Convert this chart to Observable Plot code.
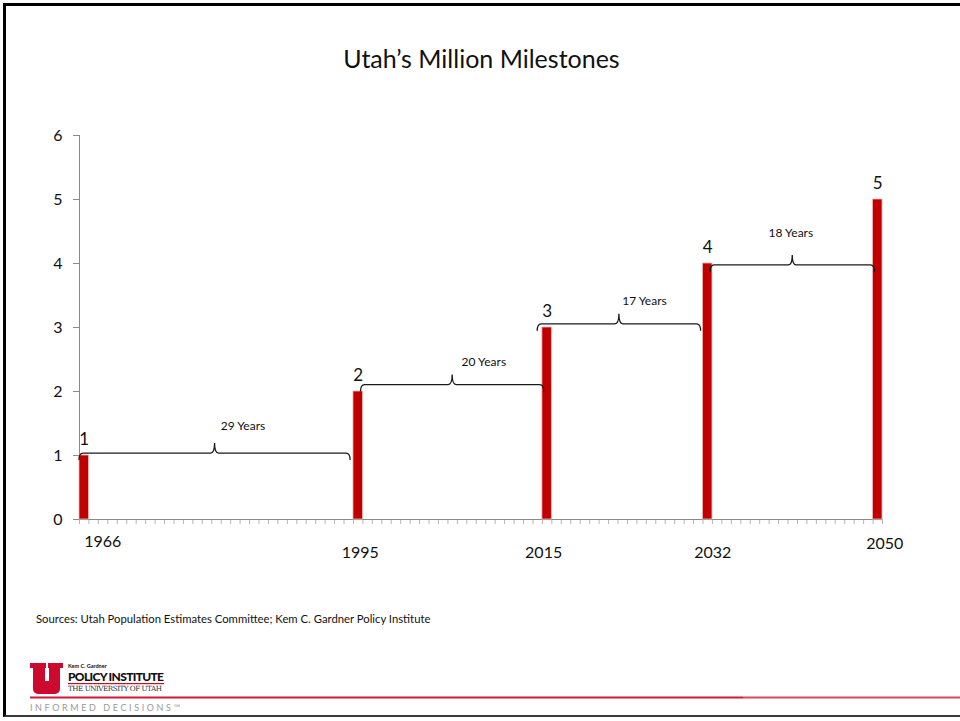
<!DOCTYPE html>
<html>
<head>
<meta charset="utf-8">
<script src="https://cdn.jsdelivr.net/npm/d3@7"></script>
<script src="https://cdn.jsdelivr.net/npm/@observablehq/plot@0.6"></script>
<style>
  html, body { margin: 0; padding: 0; background: #fff; width: 960px; height: 721px; overflow: hidden; font-family: Lato, "Open Sans", sans-serif; }
  #frame { position: absolute; left: 3px; top: 3px; width: 970px; height: 714px; border-left: 3px solid #000; border-top: 3px solid #000; border-bottom: 2px solid #3a3a3a; box-sizing: border-box; }
  #title { position: absolute; top: 43px; left: 0; width: 963px; text-align: center; font-size: 25px; color: #111; }
  #chart { position: absolute; top: 100px; left: 0; }
  #source { position: absolute; left: 36px; top: 612px; font-size: 11.3px; color: #111; }
  #logo { position: absolute; left: 0; top: 655px; }
</style>
</head>
<body>
<div id="frame"></div>
<div id="title">Utah’s Million Milestones</div>
<div id="chart"></div>
<div id="source">Sources: Utah Population Estimates Committee; Kem C. Gardner Policy Institute</div>
<svg id="logo" width="960" height="64" xmlns="http://www.w3.org/2000/svg">
  <g fill="#cc0a2f">
    <rect x="30" y="8" width="16" height="5"/>
    <rect x="48" y="8" width="15" height="5"/>
    <rect x="33" y="12" width="12" height="20"/>
    <rect x="49" y="12" width="11" height="20"/>
    <rect x="33" y="26" width="27" height="13" rx="5"/>
  </g>
  <text x="68" y="13" font-size="5.5" font-weight="bold" fill="#111" font-family="Lato, sans-serif">Kem C. Gardner</text>
  <text x="68" y="26" font-size="12" font-weight="900" fill="#111" font-family="Lato, sans-serif" textLength="96">POLICY INSTITUTE</text>
  <rect x="68" y="28" width="96" height="1.2" fill="#cc0a2f"/>
  <text x="68" y="36" font-size="7.2" fill="#333" font-family="'DejaVu Serif', 'Liberation Serif', serif" textLength="94">THE UNIVERSITY OF UTAH</text>
  <rect x="30" y="41.5" width="713" height="2" fill="#d3173a"/>
  <rect x="743" y="41.5" width="217" height="2" fill="#e0455f"/>
  <text x="30" y="56" font-size="9" fill="#9a9a9a" font-family="Lato, sans-serif" letter-spacing="2.6">INFORMED DECISIONS™</text>
</svg>
<script>
// ---- data ----
const years = [1966, 1995, 2015, 2032, 2050];
const millions = [1, 2, 3, 4, 5];
const yTicks = [0, 1, 2, 3, 4, 5, 6];
const yearLabels = ["1966", "1995", "2015", "2032", "2050"];
const braceFrom = [1965.5, 1995.3, 2014.0, 2032.3];
const braceTo = [1994.2, 2014.7, 2031.3, 2049.7];
const braceLevel = [1.03, 2.10, 3.05, 3.97];
const braceText = ["29 Years", "20 Years", "17 Years", "18 Years"];
const braceTextX = [1982.8, 2008.3, 2025.3, 2040.8];
const braceTextY = [1.46, 2.46, 3.41, 4.47];
const yearDomain = [1965.5, 2050.5];

const bars = years.map((y, i) => ({year: y, value: millions[i], label: yearLabels[i]}));
const braces = braceFrom.map((f, i) => ({from: f, to: braceTo[i], level: braceLevel[i], text: braceText[i], tx: braceTextX[i], ty: braceTextY[i]}));
const boundaries = d3.range(yearDomain[0], yearDomain[1] + 0.01, 1);

const axisGray = "#8a8a8a";
const fontFamily = "Lato, 'Open Sans', sans-serif";

// brace drawing as a custom mark using Plot's scales
function braceMark(index, scales) {
  const g = d3.create("svg:g").attr("fill", "none").attr("stroke", "#1a1a1a").attr("stroke-width", 1.3);
  const r = 4, c = 7, h = 10;
  for (const b of braces) {
    const x0 = scales.x(b.from), x1 = scales.x(b.to), py = scales.y(b.level);
    const pm = scales.x((b.from + b.to) / 2);
    const p = d3.path();
    p.moveTo(x0, py + c);
    p.quadraticCurveTo(x0, py, x0 + r, py);
    p.lineTo(pm - r, py);
    p.quadraticCurveTo(pm, py, pm, py - h);
    p.quadraticCurveTo(pm, py, pm + r, py);
    p.lineTo(x1 - r, py);
    p.quadraticCurveTo(x1, py, x1, py + c);
    g.append("path").attr("d", p.toString());
  }
  return g.node();
}

const yearNudge = [[18.5, 22], [2, 33], [-3.5, 33], [5, 33], [7, 24]];

const chart = Plot.plot({
  width: 960,
  height: 480,
  marginLeft: 79,
  marginRight: 78,
  marginTop: 35,
  marginBottom: 61,
  style: {fontFamily, background: "transparent", color: "#111", overflow: "visible"},
  x: {type: "linear", domain: yearDomain, axis: null},
  y: {domain: [0, 6], axis: null},
  marks: [
    Plot.axisY(yTicks, {tickSize: 6, tickPadding: 11, fontSize: 16, tickFormat: d3.format("d"), stroke: axisGray, fill: "#111", label: null}),
    Plot.axisX(boundaries, {tickSize: 5, tickFormat: () => "", stroke: "#b5b5b5", label: null}),
    Plot.ruleX([yearDomain[0]], {y1: 0, y2: 6, stroke: axisGray}),
    Plot.ruleY([0], {x1: yearDomain[0], x2: yearDomain[1], stroke: axisGray}),
    Plot.rectY(bars, {x1: d => d.year - 0.5, x2: d => d.year + 0.5, y: "value", fill: "#c00000", stroke: "#f0b4b4", strokeWidth: 0.8}),
    Plot.text(bars, {x: "year", y: "value", text: d => String(d.value), dy: -16, fontSize: 17, fill: "#111"}),
    ...bars.map((b, i) => Plot.text([b], {x: "year", y: () => 0, text: "label", dx: yearNudge[i][0], dy: yearNudge[i][1], fontSize: 16, fill: "#111"})),
    braceMark,
    Plot.text(braces, {x: "tx", y: "ty", text: "text", fontSize: 12, fill: "#111"})
  ]
});
document.getElementById("chart").appendChild(chart);
</script>
</body>
</html>
